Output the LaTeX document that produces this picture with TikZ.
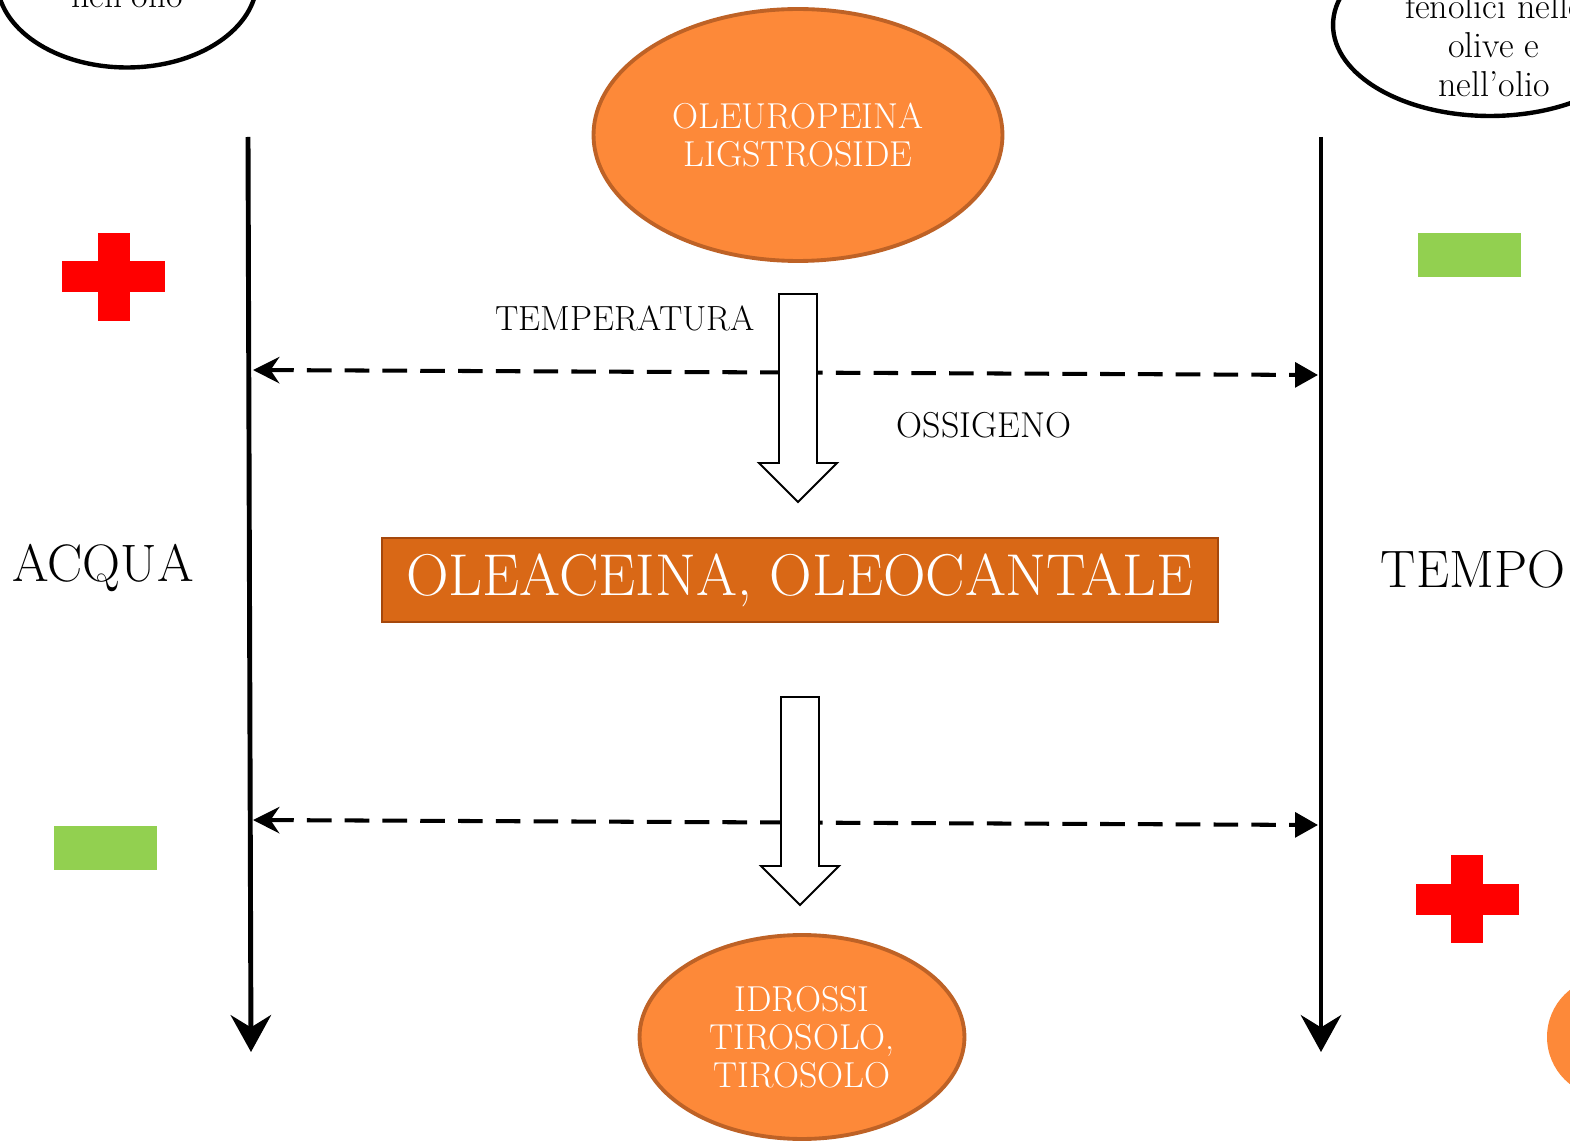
\documentclass[tikz,border=0pt]{standalone}
\usepackage{fontspec}
\usetikzlibrary{arrows.meta,shapes.geometric}

\definecolor{orfill}{RGB}{253,137,57}
\definecolor{orline}{RGB}{190,98,38}
\definecolor{boxfill}{RGB}{217,104,22}
\definecolor{boxline}{RGB}{165,72,12}
\definecolor{plusred}{RGB}{255,0,0}
\definecolor{minusgreen}{RGB}{146,208,80}

\tikzset{
  txt/.style={font=\fontsize{20.5}{21.8}\selectfont, align=center, inner sep=0pt},
  bigtxt/.style={font=\fontsize{30}{34}\selectfont, inner sep=0pt},
  blob/.style={ellipse, draw=orline, line width=2.2pt, fill=orfill, text=white, inner sep=0pt, txt},
  note/.style={ellipse, draw=black, line width=2.5pt, fill=white, inner sep=0pt},
  axis/.style={line width=2.8pt, -{Stealth[length=21pt, width=23pt, inset=7pt]}},
  dashline/.style={line width=2.3pt, dash pattern=on 14pt off 7.5pt,
    {Stealth[length=15pt, width=15pt, inset=5pt]}-{Triangle[length=13pt, width=14pt]}},
  block/.style={draw=black, line width=1.1pt, fill=white, line join=miter},
  pics/downarrow/.style={code={
    \draw[block] (-19,0) -- (19,0) -- (19,169) -- (39,169) -- (0,208)
      -- (-39,169) -- (-19,169) -- cycle;}},
  pics/plussign/.style={code={
    \fill[plusred] (-51.5,-15.5) rectangle (51.5,15.5);
    \fill[plusred] (-16,-44) rectangle (16,44);}},
  pics/minussign/.style={code={
    \fill[minusgreen] (-51.5,-22) rectangle (51.5,22);}},
}

\begin{document}
\begin{tikzpicture}[x=0.02cm, y=-0.02cm]
  \useasboundingbox (0,0) rectangle (1570,1142);
  \clip (0,0) rectangle (1570,1142);

  % partly visible notes at the top corners
  \node[note, minimum width=5.2cm, minimum height=3.5cm] (noteL) at (127,-20) {};
  \node[txt, anchor=base] (noteLtxt) at (127,8) {nell’olio};
  \node[note, minimum width=6.28cm, minimum height=3.64cm] (noteR) at (1490,25) {};
  \node[txt, anchor=base] (noteR1) at (1494,19) {fenolici nelle};
  \node[txt, anchor=base] (noteR2) at (1494,58) {olive e};
  \node[txt, anchor=base] (noteR3) at (1494,97) {nell’olio};

  % partly visible orange blob at the bottom right
  \node[circle, fill=orfill, minimum size=2.4cm, inner sep=0pt] (blobR) at (1607,1037) {};

  % vertical axes
  \coordinate (acqTop) at (248,137);
  \coordinate (acqEnd) at (251,1052);
  \coordinate (tmpTop) at (1321,137);
  \coordinate (tmpEnd) at (1321,1052);
  \draw[axis] (acqTop) -- (acqEnd);
  \draw[axis] (tmpTop) -- (tmpEnd);

  % dashed two-way arrows between the axes
  \coordinate (d1L) at (253,370);
  \coordinate (d1R) at (1318,375);
  \coordinate (d2L) at (253,820);
  \coordinate (d2R) at (1318,825);
  \draw[dashline] (d1L) -- (d1R);
  \draw[dashline] (d2L) -- (d2R);

  % main compounds
  \node[blob, minimum width=8.18cm, minimum height=5.04cm] (oleu) at (798,135)
    {OLEUROPEINA\\LIGSTROSIDE};
  \node[draw=boxline, line width=1.1pt, fill=boxfill, text=white,
        minimum width=16.72cm, minimum height=1.68cm, inner sep=0pt,
        font=\fontsize{33.6}{38}\selectfont] (olea) at (800,580)
    {OLEACEINA, OLEOCANTALE};
  \node[blob, minimum width=6.5cm, minimum height=4.08cm] (idro) at (802,1037)
    {IDROSSI\\TIROSOLO,\\TIROSOLO};

  % transformation arrows
  \pic (arrA) at (798,294) {downarrow};
  \pic (arrB) at (800,697) {downarrow};

  % factors
  \node[txt, anchor=base, font=\fontsize{19.9}{21.8}\selectfont] (temp) at (625,331) {TEMPERATURA};
  \node[txt, anchor=base] (oss) at (984,438) {OSSIGENO};
  \node[bigtxt, anchor=base] (acqua) at (103,581) {ACQUA};
  \node[bigtxt, anchor=base] (tempo) at (1473,587) {TEMPO};

  % signs
  \pic (plusA) at (113.5,277) {plussign};
  \pic (minusA) at (105,848) {minussign};
  \pic (minusT) at (1469.5,255) {minussign};
  \pic (plusT) at (1467,899) {plussign};
\end{tikzpicture}
\end{document}
